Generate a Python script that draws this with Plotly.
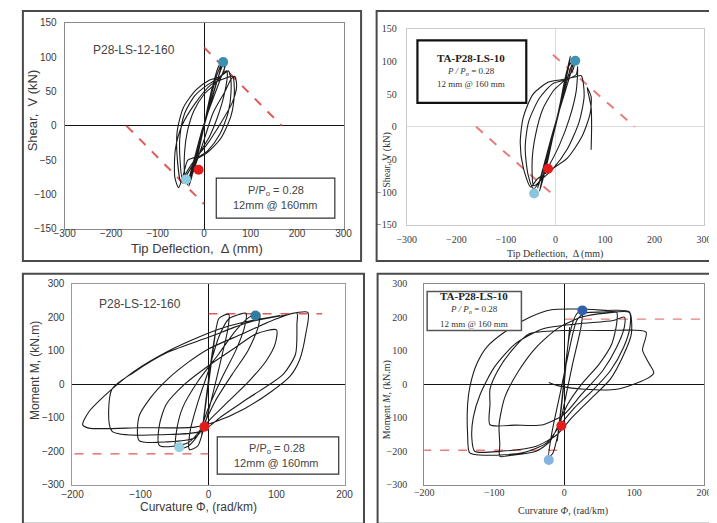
import plotly.graph_objects as go

# page body adds an 8px margin, so the figure is sized to the visible area
OFF = 8
W, H = 717 - OFF, 523 - OFF

# ---------------- DATA ----------------
# Panel 1: P28-LS-12-160, shear vs tip deflection
P1_DEFL = [0, 8, 18, 10, -2, -12, -18, -8, 5, 20, 30, 40,
           32, 15, 0, -15, -28, -33, -25, -8, 10, 28, 42, 47,
           36, 14, -4, -18, -30, -36, -24, -6, 12, 30, 44,
           42, 25, 0, -22, -36, -42, -42, -38, -28, -10, 12, 30, 42, 50,
           48, 32, 8, -20, -42, -52, -52, -46, -36, -16, 8, 34, 52, 58, 56,
           52, 35, 10, -18, -45, -58, -58, -50, -40, -20, 5, 36, 58, 65, 62, 58,
           48, 15, -20, -48, -62, -63, -55, -45, -35, -18, 5, 35, 60, 70, 66, 58,
           45, 20, 0, -20, -30, -35]
P1_SHEAR = [0, 28, 58, 30, -5, -38, -55, -25, 15, 62, 85, 97,
            75, 35, 0, -40, -78, -88, -65, -20, 30, 75, 95, 92,
            70, 30, -5, -40, -70, -86, -58, -15, 30, 70, 94,
            78, 62, 46, 22, -8, -38, -70, -84, -66, -40, -15, 15, 42, 75,
            80, 70, 60, 44, 18, -15, -48, -80, -70, -48, -36, -12, 20, 50, 74,
            80, 72, 66, 52, 26, -8, -45, -82, -70, -50, -40, -18, 15, 48, 72,
            72, 70, 60, 32, 0, -35, -75, -90, -72, -50, -45, -28, 3, 33, 58, 72,
            68, 50, 20, -20, -60, -80]
P1_LIM1_X, P1_LIM1_Y = [0, 167], [114, 0]
P1_LIM2_X, P1_LIM2_Y = [-167, 0], [0, -114]
P1_PTS_X = [41, -12, -39]
P1_PTS_Y = [93, -64, -78]

# Panel 2: TA-P28-LS-10, shear vs tip deflection
P2_DEFL = [0, 8, 18, 8, -5, -15, -20, -8, 8, 22, 30,
           25, 10, -5, -20, -32, -25, -10, 8, 25, 38,
           30, 12, -6, -22, -36, -26, -8, 12, 30, 40,
           36, 20, -2, -25, -40, -47, -44, -34, -15, 8, 28, 42, 45,
           42, 22, -5, -32, -54, -61, -55, -44, -30, -6, 24, 48, 58, 52,
           38, 12, -15, -45, -65, -71, -65, -50, -37, -12, 24, 54, 70, 72, 64, 72, 73, 72]
P2_SHEAR = [0, 30, 62, 25, -15, -50, -65, -25, 30, 80, 108,
            85, 35, -15, -65, -98, -75, -30, 30, 90, 104,
            80, 35, -10, -55, -94, -70, -22, 38, 88, 106,
            88, 72, 57, 28, -12, -52, -90, -85, -62, -28, 12, 55, 92,
            80, 72, 66, 44, 8, -32, -74, -95, -82, -65, -34, 8, 48, 78,
            76, 72, 68, 50, 14, -25, -62, -92, -80, -67, -48, -14, 20, 46, 60, 30, 0, -35]
P2_LIM1_X, P2_LIM1_Y = [-5, 160], [110, 0]
P2_LIM2_X, P2_LIM2_Y = [-160, 0], [0, -107]
P2_PTS_X = [40, -15, -43]
P2_PTS_Y = [101, -64, -102]

# Panel 3: P28-LS-12-160, moment vs curvature
P3_CURV = [0, 5, 10, 4, -4, -10, -4, 6, 15,
           22, 30, 28, 18, 5, -8, -16, -28,
           -27, -15, 0, 15, 30, 45, 55,
           53, 40, 20, 0, -15, -30, -48,
           -47, -38, -15, 15, 40, 60, 75,
           73, 58, 35, 10, -10, -30, -72,
           -72, -62, -35, 0, 40, 70, 100,
           98, 85, 60, 30, 0, -20, -60, -102,
           -102, -85, -60, -30, 0, 50, 100, 130,
           130, 128, 110, 60, 20, -10, -60, -142,
           -142, -110, -60, 0, 60, 110, 146,
           143, 134, 120, 91, 53, 10, -20, -100, -176, -185,
           -176, -142, -109, -61, -14, 24, 62, 105]
P3_MOM = [0, 80, 150, 60, -60, -150, -50, 100, 195,
          205, 208, 160, 70, -40, -140, -185, -195,
          -140, -50, 40, 140, 195, 208, 212,
          170, 100, 20, -70, -150, -185, -192,
          -140, -70, 10, 90, 160, 200, 212,
          170, 100, 30, -50, -130, -175, -183,
          -120, -60, 0, 55, 110, 150, 162,
          120, 70, 10, -50, -110, -160, -172, -168,
          -95, -40, 15, 65, 105, 150, 195, 212,
          180, 90, 30, -40, -95, -140, -150, -140,
          -15, 35, 95, 140, 185, 205, 214,
          150, 73, 24, -24, -73, -112, -128, -130, -131, -121,
          -83, -15, 39, 97, 141, 170, 189, 205]
P3_LIM1_X, P3_LIM1_Y = [0, 167], [210, 210]
P3_LIM2_X, P3_LIM2_Y = [-197, 0], [-208, -208]
P3_PTS_X = [69, -6, -43]
P3_PTS_Y = [205, -127, -188]

# Panel 4: TA-P28-LS-10, moment vs curvature
P4_CURV = [0, 4, 8, 3, -4, -10, -4, 8, 18, 26,
           24, 12, 0, -10, -16, -22,
           -18, -5, 8, 18, 30, 55, 75,
           75, 68, 50, 25, 5, -8, -20, -40, -75, -92,
           -92, -93, -85, -65, -40, -10, 25, 60, 93,
           94, 85, 66, 40, 15, -5, -25, -60, -110, -135, -138,
           -138, -135, -125, -110, -82, -50, -18, 20, 60, 93,
           96, 84, 66, 38, 10, -10, -40, -90, -128, -132,
           -130, -120, -100, -70, -30, 20, 70, 86, 86,
           75, 55, 25, 0, -30, -70, -106, -106, -106,
           -95, -75, -50, 0, 60, 117,
           112, 121, 128, 117, 75, 29, -8, -22]
P4_MOM = [0, 90, 170, 70, -70, -170, -60, 150, 210, 220,
          170, 60, -60, -160, -205, -218,
          -150, -20, 110, 190, 212, 215, 215,
          180, 120, 60, 0, -60, -120, -170, -200, -212, -215,
          -180, -120, -40, 40, 110, 165, 200, 212, 214,
          170, 110, 40, -20, -70, -120, -175, -205, -212, -205, -150,
          -60, -10, 60, 112, 160, 199, 222, 224, 220, 216,
          150, 83, 15, -44, -102, -150, -185, -200, -200, -160,
          -100, -30, 50, 120, 165, 180, 190, 200, 170,
          110, 40, -30, -90, -121, -122, -121, -60, -15,
          40, 100, 150, 160, 160, 155,
          102, 63, 34, 15, -15, -15, -5, 5]
P4_LIM1_X, P4_LIM1_Y = [1, 205], [194, 194]
P4_LIM2_X, P4_LIM2_Y = [-203, 0], [-197, -197]
P4_PTS_X = [26, -4, -22]
P4_PTS_Y = [220, -124, -226]

# ---------------- FIGURE ----------------
def fx(px):
    return (px - OFF) / W

def fy(py):
    return 1 - (py - OFF) / H

panels = [
    dict(x="x", y="y", dom=(55, 342, 17, 228), xr=[-300, 300], yr=[-150, 150], xd=100, yd=50,
         font="Liberation Sans", frame="#8a8a8a", zero="#111111", xlen=0, xso=-5, ylen=5),
    dict(x="x2", y="y2", dom=(407, 713, 23, 224), xr=[-300, 300], yr=[-150, 150], xd=100, yd=50,
         font="Liberation Serif", frame="#c8c8c8", zero="#dddddd", xlen=5, xso=0, ylen=7),
    dict(x="x3", y="y3", dom=(63, 343, 284, 490), xr=[-200, 200], yr=[-300, 300], xd=100, yd=100,
         font="Liberation Sans", frame="#9a9a9a", zero="#111111", xlen=0, xso=0, ylen=5),
    dict(x="x4", y="y4", dom=(425, 713, 284, 490), xr=[-200, 200], yr=[-300, 300], xd=100, yd=100,
         font="Liberation Serif", frame="#8a8a8a", zero="#111111", xlen=0, xso=-2, ylen=14),
]

fig = go.Figure()

series = [
    (P1_DEFL, P1_SHEAR, P1_LIM1_X, P1_LIM1_Y, P1_LIM2_X, P1_LIM2_Y, P1_PTS_X, P1_PTS_Y,
     ["#3b8fb3", "#e31b1b", "#8fcbe0"]),
    (P2_DEFL, P2_SHEAR, P2_LIM1_X, P2_LIM1_Y, P2_LIM2_X, P2_LIM2_Y, P2_PTS_X, P2_PTS_Y,
     ["#3f93b5", "#e31b1b", "#8cc6de"]),
    (P3_CURV, P3_MOM, P3_LIM1_X, P3_LIM1_Y, P3_LIM2_X, P3_LIM2_Y, P3_PTS_X, P3_PTS_Y,
     ["#2f7fa3", "#e31b1b", "#96d0e3"]),
    (P4_CURV, P4_MOM, P4_LIM1_X, P4_LIM1_Y, P4_LIM2_X, P4_LIM2_Y, P4_PTS_X, P4_PTS_Y,
     ["#3160ad", "#e31b1b", "#84b3e0"]),
]

for i, (p, s) in enumerate(zip(panels, series)):
    xs, ys, l1x, l1y, l2x, l2y, mx, my, cols = s
    dash_w = 2 if i in (0, 1) else 1.3
    dash_c = "rgba(220,60,60,0.85)" if i in (0, 2) else "rgba(225,90,90,0.8)"
    for lx, ly in ((l1x, l1y), (l2x, l2y)):
        fig.add_trace(go.Scatter(x=lx, y=ly, mode="lines", xaxis=p["x"], yaxis=p["y"],
                                 line=dict(color=dash_c, width=dash_w, dash="dash"),
                                 showlegend=False, hoverinfo="skip"))
    fig.add_trace(go.Scatter(x=xs, y=ys, mode="lines", xaxis=p["x"], yaxis=p["y"],
                             line=dict(color="#1c1c1c", width=1.1, shape="spline", smoothing=0.7),
                             showlegend=False))
    fig.add_trace(go.Scatter(x=mx, y=my, mode="markers", xaxis=p["x"], yaxis=p["y"],
                             marker=dict(color=cols, size=10), showlegend=False))

layout = dict(width=W, height=H, margin=dict(l=0, r=0, t=0, b=0),
              paper_bgcolor="white", plot_bgcolor="white", showlegend=False)

for i, p in enumerate(panels):
    x0, x1, yt, yb = p["dom"]
    xk = "xaxis" if i == 0 else f"xaxis{i+1}"
    yk = "yaxis" if i == 0 else f"yaxis{i+1}"
    tf = dict(family=p["font"], size=10, color="#3a3a3a")
    layout[xk] = dict(domain=[fx(x0), fx(x1)], range=p["xr"], dtick=p["xd"], anchor=p["y"],
                      showgrid=False, zeroline=True, zerolinecolor=p["zero"], zerolinewidth=1,
                      showline=True, mirror=True, linecolor=p["frame"], linewidth=1,
                      ticks="outside", ticklen=p["xlen"], tickcolor="rgba(0,0,0,0)",
                      ticklabelstandoff=p["xso"], tickfont=tf, fixedrange=True)
    layout[yk] = dict(domain=[fy(yb), fy(yt)], range=p["yr"], dtick=p["yd"], anchor=p["x"],
                      showgrid=False, zeroline=True, zerolinecolor=p["zero"], zerolinewidth=1,
                      showline=True, mirror=True, linecolor=p["frame"], linewidth=1,
                      ticks="outside", ticklen=p["ylen"], tickcolor="rgba(0,0,0,0)",
                      tickfont=tf, fixedrange=True)

shapes = []
for (a, b, c, d) in [(12, 5, 360, 261), (376, 5, 730, 261), (12, 274, 363, 530), (377, 274, 730, 530)]:
    shapes.append(dict(type="rect", xref="paper", yref="paper", x0=fx(a), x1=fx(c), y0=fy(d), y1=fy(b),
                       line=dict(color="#4a4a4a", width=2), fillcolor="rgba(0,0,0,0)", layer="below"))
shapes.append(dict(type="rect", xref="paper", yref="paper", x0=fx(211), x1=fx(333), y0=fy(217), y1=fy(176),
                   line=dict(color="#333333", width=1.2), fillcolor="white"))
shapes.append(dict(type="rect", xref="paper", yref="paper", x0=fx(418), x1=fx(530), y0=fy(99), y1=fy(35),
                   line=dict(color="#111111", width=2.2), fillcolor="white"))
shapes.append(dict(type="rect", xref="paper", yref="paper", x0=fx(212), x1=fx(337), y0=fy(479), y1=fy(441),
                   line=dict(color="#333333", width=1.2), fillcolor="white"))
shapes.append(dict(type="rect", xref="paper", yref="paper", x0=fx(428), x1=fx(525), y0=fy(332), y1=fy(292),
                   line=dict(color="#555555", width=1.5), fillcolor="white"))
layout["shapes"] = shapes

sans = "Liberation Sans"
serif = "Liberation Serif"

def ann(text, x, y, size, family, color="#333333", angle=0):
    return dict(text=text, xref="paper", yref="paper", x=fx(x), y=fy(y), showarrow=False,
                xanchor="center", yanchor="middle", textangle=angle,
                font=dict(family=family, size=size, color=color))

annotations = [
    ann("P28-LS-12-160", 126, 45, 12, sans, "#444444"),
    ann("P/P<sub>o</sub> = 0.28", 272, 189, 11, sans, "#444444"),
    ann("12mm @ 160mm", 272, 204, 11, sans, "#444444"),
    ann("Tip Deflection,  Δ (mm)", 191, 248, 13, sans, "#3a3a3a"),
    ann("Shear,  V (kN)", 22, 107, 13, sans, "#3a3a3a", -90),
    ann("<b>TA-P28-LS-10</b>", 473, 53, 11, serif, "#222222"),
    ann("<i>P / P<sub>o</sub></i> = 0.28", 473, 67, 9, serif, "#333333"),
    ann("12 mm @ 160 mm", 473, 80, 9, serif, "#333333"),
    ann("Tip Deflection,  Δ (mm)", 560, 254, 10, serif, "#333333"),
    ann("Shear, V (kN)", 386, 157, 10, serif, "#333333", -90),
    ann("P28-LS-12-160", 133, 305, 12, sans, "#444444"),
    ann("P/P<sub>o</sub> = 0.28", 273, 453, 11, sans, "#444444"),
    ann("12mm @ 160mm", 273, 468, 11, sans, "#444444"),
    ann("Curvature Φ, (rad/km)", 193, 513, 12, sans, "#3a3a3a"),
    ann("Moment M, (kN.m)", 25, 373, 12, sans, "#3a3a3a", -90),
    ann("<b>TA-P28-LS-10</b>", 476, 297, 11, serif, "#222222"),
    ann("<i>P / P<sub>o</sub></i> = 0.28", 476, 311, 9, serif, "#333333"),
    ann("12 mm @ 160 mm", 476, 325, 9, serif, "#333333"),
    ann("Curvature <i>Φ</i>, (rad/km)", 568, 517, 10, serif, "#333333"),
    ann("Moment <i>M</i>, (kN.m)", 386, 403, 10, serif, "#333333", -90),
]
layout["annotations"] = annotations

fig.update_layout(**layout)
fig.write_html("out.html")
